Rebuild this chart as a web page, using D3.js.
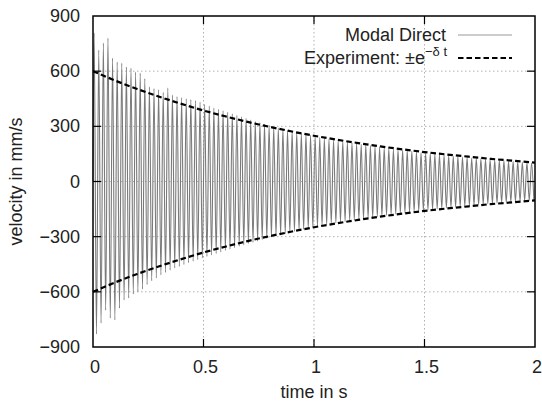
<!DOCTYPE html>
<html>
<head>
<meta charset="utf-8">
<script src="https://cdn.jsdelivr.net/npm/d3@7"></script>
<style>
  body { margin: 0; background: #fff; }
  text { font-family: "Liberation Sans", Arial, sans-serif; fill: #222; }
</style>
</head>
<body>
<script>
// modal direct response: one positive and one negative peak per cycle (mm/s)
var freq = 48; // cycles per second
var posPeaks = [807, 715, 753, 780, 671, 650, 644, 623, 617, 595,
  590, 560, 515, 505, 498, 485, 508, 470, 462, 455,
  450, 445, 440, 432, 420, 410, 400, 392, 385, 376,
  368, 360, 352, 344, 336, 328, 320, 312, 305, 298,
  291, 285, 279, 273, 267, 262, 256, 251, 246, 241,
  236, 231, 226, 222, 218, 214, 210, 206, 202, 199,
  195, 191, 188, 184, 181, 177, 174, 171, 168, 165,
  162, 158, 155, 152, 149, 147, 144, 141, 138, 136,
  133, 131, 128, 126, 124, 121, 119, 117, 115, 113,
  110, 108, 106, 104, 103, 101];
var negPeaks = [-830, -770, -700, -743, -753, -689, -645, -634, -612, -600,
  -585, -560, -540, -525, -508, -495, -482, -470, -462, -452,
  -442, -434, -425, -416, -408, -400, -392, -383, -375, -368,
  -360, -352, -345, -338, -331, -324, -317, -310, -303, -297,
  -290, -284, -278, -272, -266, -260, -255, -250, -245, -240,
  -235, -230, -226, -222, -218, -213, -209, -205, -202, -198,
  -194, -191, -187, -184, -180, -177, -174, -171, -168, -164,
  -161, -158, -155, -152, -149, -147, -144, -141, -138, -136,
  -133, -131, -128, -126, -124, -121, -119, -117, -115, -113,
  -110, -108, -106, -104, -103, -101];

// experiment envelope +-e^(-delta t), read every 0.1 s
var envTimes = [0, 0.1, 0.2, 0.3, 0.4, 0.5, 0.6, 0.7, 0.8, 0.9, 1.0,
  1.1, 1.2, 1.3, 1.4, 1.5, 1.6, 1.7, 1.8, 1.9, 2.0];
var envValues = [600, 549, 503, 461, 422, 386, 354, 324, 297, 272, 249,
  228, 209, 191, 175, 160, 147, 135, 123, 113, 103];

var xTicks = [0, 0.5, 1, 1.5, 2];
var yTicks = [-900, -600, -300, 0, 300, 600, 900];

var w = 542, h = 403;
var pL = 93, pR = 535, pT = 16, pB = 347;

var svg = d3.select("body").append("svg")
  .attr("width", w)
  .attr("height", h);

var x = d3.scaleLinear().domain([0, 2]).range([pL, pR]);
var y = d3.scaleLinear().domain([-900, 900]).range([pB, pT]);

// grid
svg.selectAll("line.gx")
  .data(xTicks.slice(1, -1))
  .enter().append("line")
  .attr("x1", d => x(d)).attr("x2", d => x(d))
  .attr("y1", pT).attr("y2", pB)
  .attr("stroke", "#b0b0b0").attr("stroke-dasharray", "1.5,2.5");
svg.selectAll("line.gy")
  .data(yTicks.slice(1, -1))
  .enter().append("line")
  .attr("y1", d => y(d)).attr("y2", d => y(d))
  .attr("x1", pL).attr("x2", pR)
  .attr("stroke", "#b0b0b0").attr("stroke-dasharray", "1.5,2.5");

// signal
var sig = [[0, 0]];
posPeaks.forEach(function(p, i) {
  sig.push([(i + 0.25) / freq, p]);
  sig.push([(i + 0.75) / freq, negPeaks[i]]);
});

var line = d3.line()
  .x(d => x(d[0]))
  .y(d => y(d[1]))
  .curve(d3.curveMonotoneX);

svg.append("path")
  .datum(sig)
  .attr("d", line)
  .attr("fill", "none")
  .attr("stroke", "#7a7a7a")
  .attr("stroke-width", 1.1);

// envelope
[1, -1].forEach(function(s) {
  svg.append("path")
    .datum(envTimes.map((t, i) => [t, s * envValues[i]]))
    .attr("d", line)
    .attr("fill", "none")
    .attr("stroke", "#000")
    .attr("stroke-width", 2.2)
    .attr("stroke-dasharray", "5.5,3");
});

// ticks on all four sides
var tl = 8;
xTicks.slice(1, -1).forEach(function(t) {
  svg.append("line").attr("x1", x(t)).attr("x2", x(t))
    .attr("y1", pB).attr("y2", pB - tl).attr("stroke", "#000").attr("stroke-width", 1.2);
  svg.append("line").attr("x1", x(t)).attr("x2", x(t))
    .attr("y1", pT).attr("y2", pT + tl).attr("stroke", "#000").attr("stroke-width", 1.2);
});
yTicks.slice(1, -1).forEach(function(t) {
  svg.append("line").attr("y1", y(t)).attr("y2", y(t))
    .attr("x1", pL).attr("x2", pL + tl).attr("stroke", "#000").attr("stroke-width", 1.2);
  svg.append("line").attr("y1", y(t)).attr("y2", y(t))
    .attr("x1", pR).attr("x2", pR - tl).attr("stroke", "#000").attr("stroke-width", 1.2);
});

// frame
svg.append("rect")
  .attr("x", pL).attr("y", pT)
  .attr("width", pR - pL).attr("height", pB - pT)
  .attr("fill", "none").attr("stroke", "#000").attr("stroke-width", 1.5);

// tick labels
svg.selectAll("text.xl")
  .data(xTicks)
  .enter().append("text")
  .attr("x", d => x(d) + 2)
  .attr("y", 373)
  .attr("text-anchor", "middle")
  .attr("font-size", 18)
  .text(d => d);

svg.selectAll("text.yl")
  .data(yTicks)
  .enter().append("text")
  .attr("x", 80)
  .attr("y", d => y(d) + 6)
  .attr("text-anchor", "end")
  .attr("font-size", 18)
  .text(d => d < 0 ? "\u2212" + Math.abs(d) : d);

// axis titles
svg.append("text")
  .attr("x", 314).attr("y", 398)
  .attr("text-anchor", "middle")
  .attr("font-size", 18)
  .text("time in s");

svg.append("text")
  .attr("transform", "translate(22," + (pT + pB) / 2 + ") rotate(-90)")
  .attr("text-anchor", "middle")
  .attr("font-size", 18)
  .text("velocity in mm/s");

// legend
svg.append("text")
  .attr("x", 446).attr("y", 41)
  .attr("text-anchor", "end")
  .attr("font-size", 18)
  .text("Modal Direct");
svg.append("line")
  .attr("x1", 458).attr("x2", 512).attr("y1", 35).attr("y2", 35)
  .attr("stroke", "#999").attr("stroke-width", 1);

var t2 = svg.append("text")
  .attr("x", 447).attr("y", 64)
  .attr("text-anchor", "end")
  .attr("font-size", 18);
t2.append("tspan").text("Experiment: \u00b1e");
t2.append("tspan").attr("dy", -8).attr("font-size", 13).text("\u2212\u03b4 t");
svg.append("line")
  .attr("x1", 458).attr("x2", 512).attr("y1", 58).attr("y2", 58)
  .attr("stroke", "#000").attr("stroke-width", 2.2)
  .attr("stroke-dasharray", "5.5,3");
</script>
</body>
</html>
